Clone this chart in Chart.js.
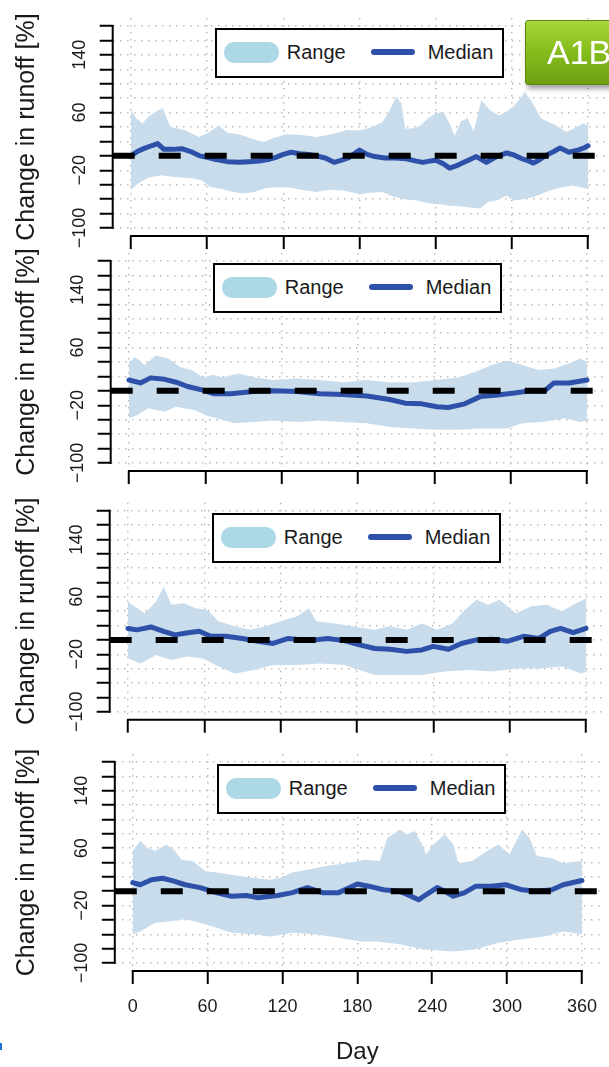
<!DOCTYPE html>
<html><head><meta charset="utf-8">
<script src="https://cdn.jsdelivr.net/npm/chart.js@4.4.1/dist/chart.umd.min.js"></script>
<style>
html,body{margin:0;padding:0;background:#fff;overflow:hidden;width:609px;height:1067px;}
body{position:relative;font-family:"Liberation Sans",Arial,sans-serif;}
canvas{position:absolute;left:0;}
.legend{position:absolute;box-sizing:border-box;width:289px;height:50px;border:2px solid #000;background:#fff;}
.legend .sw{position:absolute;left:7px;top:12px;width:55px;height:21px;border-radius:10px;background:#add8e6;}
.legend .ln{position:absolute;left:154px;top:19px;width:44px;height:6px;border-radius:3px;background:#2d50a8;}
.legend .t{position:absolute;top:10px;font-size:20px;line-height:24px;color:#1a1a1a;white-space:nowrap;}
#a1b{position:absolute;left:525px;top:20px;width:110px;height:65px;box-sizing:border-box;border-radius:3px;
background:linear-gradient(#a9d63b 0%,#86bf1d 45%,#6e9f10 100%);border:1px solid #5c8a0c;
box-shadow:2px 4px 5px rgba(0,0,0,0.35);color:#fff;font-size:34px;line-height:63px;padding-left:21px;}
#mark{position:absolute;left:0;top:1043px;width:2px;height:7px;background:#1f6fd0;}
</style></head>
<body>
<div id="a1b">A1B</div>
<div id="mark"></div>
<script>
const xTicks=[0,60,120,180,240,300,360];
const yTicks=[-100,-80,-60,-40,-20,0,20,40,60,80,100,120,140,160,180];
const yTickLabels=[-100,-20,60,140];
const xLabel='Day';
const yLabel='Change in runoff [%]';
const legendLabels=['Range','Median'];

// Panel 1
const p1UpperDays=[0,4,9,14,20,25,31,37,43,49,54,62,69,76,85,95,104,113,122,134,146,158,170,180,190,198,203,209,213,216,222,228,234,240,246,251,255,260,265,270,276,283,290,296,301,306,310,314,318,323,329,335,343,351,356,360];
const p1Upper=[63,52,45,55,62,66,40,38,35,30,26,33,42,32,30,24,19,25,30,29,26,30,36,35,40,47,60,82,73,38,38,42,52,59,61,45,28,48,52,34,77,63,56,62,68,78,89,80,68,52,47,42,33,40,45,42];
const p1LowerDays=[0,6,14,24,32,40,48,56,62,72,80,88,97,106,114,122,134,146,156,167,180,190,198,206,215,225,235,244,251,260,268,275,281,288,296,301,309,317,324,330,339,348,355,360];
const p1Lower=[-47,-38,-30,-27,-29,-30,-31,-34,-43,-46,-50,-52,-50,-45,-44,-43,-47,-50,-47,-48,-53,-51,-50,-56,-60,-62,-66,-67,-69,-70,-72,-73,-64,-62,-55,-62,-60,-57,-52,-48,-44,-41,-44,-46];
const p1MedianDays=[0,5,10,16,21,26,33,40,47,54,60,67,76,85,93,101,108,114,120,126,133,140,146,153,160,166,172,180,186,192,200,208,217,224,230,236,240,246,251,256,261,267,272,280,288,296,302,308,313,317,322,327,333,338,345,352,357,360];
const p1Median=[0,6,10,14,17,9,9,10,6,0,-2,-5,-8,-9,-8,-7,-5,-2,2,5,3,2,0,-3,-9,-6,-2,8,2,-1,-3,-3,-4,-7,-9,-7,-6,-11,-17,-14,-10,-5,-1,-9,-1,4,1,-4,-7,-10,-5,1,6,11,5,8,11,14];

// Panel 2
const p2UpperDays=[0,5,12,21,31,40,49,58,66,74,86,98,113,132,150,168,187,205,224,242,260,276,285,297,309,322,334,346,355,360];
const p2Upper=[40,47,36,49,45,33,29,19,22,19,24,19,15,17,15,12,15,12,12,15,19,29,36,42,36,29,31,38,45,40];
const p2LowerDays=[0,6,15,28,37,52,61,83,98,113,132,150,168,187,205,224,242,260,276,297,309,325,343,355,360];
const p2Lower=[-38,-34,-24,-29,-22,-27,-34,-45,-43,-41,-43,-41,-43,-45,-50,-52,-54,-54,-52,-52,-45,-43,-38,-43,-41];
const p2MedianDays=[0,9,17,28,37,46,58,67,80,98,113,132,150,168,187,205,217,230,242,251,264,276,288,303,315,326,334,346,360];
const p2Median=[15,11,18,16,12,6,1,-4,-4,-1,0,-1,-4,-5,-7,-12,-17,-18,-22,-23,-18,-8,-6,-3,0,-1,11,11,15];

// Panel 3
const p3UpperDays=[0,5,13,22,28,34,44,53,62,71,84,96,108,120,133,142,148,163,176,194,206,219,231,243,255,265,274,283,292,305,317,329,341,350,360];
const p3Upper=[53,47,37,53,74,49,51,44,42,26,19,14,19,26,33,44,26,23,19,14,19,14,23,14,23,42,56,49,56,37,47,49,40,49,58];
const p3LowerDays=[0,10,22,34,47,59,71,84,99,114,133,151,170,182,194,212,231,249,268,286,305,323,341,357,360];
const p3Lower=[-26,-33,-21,-28,-23,-26,-37,-47,-42,-35,-35,-33,-35,-42,-49,-49,-49,-44,-42,-44,-40,-40,-37,-47,-42];
const p3MedianDays=[0,7,18,28,37,47,56,65,77,90,102,114,126,142,157,170,182,194,206,219,231,240,252,262,274,286,298,311,323,332,340,350,360];
const p3Median=[16,14,18,12,7,10,12,5,5,2,-2,-5,2,-1,2,-1,-7,-12,-13,-16,-14,-9,-13,-5,0,1,-2,5,2,12,16,10,16];

// Panel 4
const p4UpperDays=[0,6,12,18,27,33,39,48,58,67,79,94,110,119,128,140,155,171,186,198,204,214,220,226,232,235,241,250,257,261,272,284,293,302,312,318,324,336,345,360];
const p4Upper=[56,70,60,56,65,58,44,42,28,26,23,19,16,19,26,30,35,39,44,42,74,86,79,84,65,51,65,79,65,39,42,56,65,51,86,74,49,46,39,42];
const p4LowerDays=[0,6,18,30,42,54,67,79,97,110,128,146,165,183,195,214,232,257,275,293,312,330,345,360];
const p4Lower=[-60,-56,-44,-42,-39,-44,-51,-58,-60,-63,-58,-60,-65,-70,-70,-74,-81,-84,-81,-72,-67,-63,-56,-60];
const p4MedianDays=[0,6,15,24,33,42,54,67,79,91,100,116,128,140,152,165,174,180,189,201,214,223,229,235,244,250,257,266,275,287,299,312,324,336,345,360];
const p4Median=[12,9,16,18,14,9,5,-2,-7,-6,-9,-6,-2,5,-2,-2,5,10,7,2,0,-7,-12,-5,5,0,-7,-2,7,7,9,2,0,2,9,15];

const F='"Liberation Sans", Arial, sans-serif';
const X_MIN=-14.4, X_MAX=374.4, Y_MIN=-111.2, Y_MAX=191.2;

const panels=[
  {top:0,h:250,area:[112.7,17.9,606.3,236.1],ud:p1UpperDays,u:p1Upper,ld:p1LowerDays,l:p1Lower,md:p1MedianDays,m:p1Median},
  {top:250,h:240,area:[110.7,252.9,605.3,471.1],ud:p2UpperDays,u:p2Upper,ld:p2LowerDays,l:p2Lower,md:p2MedianDays,m:p2Median},
  {top:490,h:250,area:[109.7,502.7,604.3,719.7],ud:p3UpperDays,u:p3Upper,ld:p3LowerDays,l:p3Lower,md:p3MedianDays,m:p3Median},
  {top:740,h:327,area:[114.8,754,607.2,971],ud:p4UpperDays,u:p4Upper,ld:p4LowerDays,l:p4Lower,md:p4MedianDays,m:p4Median}
];

const axisPlugin={id:'axesR',afterDraw(c){
  const {ctx,chartArea:a,scales:{x,y}}=c;
  ctx.save();
  ctx.strokeStyle='#000';ctx.lineWidth=2;ctx.lineCap='square';
  ctx.beginPath();
  ctx.moveTo(a.left,y.getPixelForValue(yTicks[yTicks.length-1]));
  ctx.lineTo(a.left,y.getPixelForValue(yTicks[0]));
  ctx.stroke();
  ctx.beginPath();
  ctx.moveTo(x.getPixelForValue(xTicks[0]),a.bottom);
  ctx.lineTo(x.getPixelForValue(xTicks[xTicks.length-1]),a.bottom);
  ctx.stroke();
  ctx.fillStyle='#1a1a1a';ctx.font='18px '+F;ctx.textAlign='center';ctx.textBaseline='middle';
  yTickLabels.forEach(v=>{
    const py=y.getPixelForValue(v);
    ctx.save();ctx.translate(a.left-33,py);ctx.rotate(-Math.PI/2);
    ctx.fillText(v<0?'\u2212'+Math.abs(v):String(v),0,0);
    ctx.restore();
  });
  ctx.restore();
}};

const gridOpts={color:'#bcbcbc',lineWidth:1.5,tickColor:'#000',tickWidth:2,tickLength:13,tickBorderDash:[],drawTicks:true};
const borderOpts={display:false,dash:[1.5,5.5]};

panels.forEach((p,i)=>{
  const last=i===panels.length-1;
  const [L,T,R,B]=p.area;
  const cv=document.createElement('canvas');
  cv.width=609;cv.height=p.h;cv.style.top=p.top+'px';cv.style.width='609px';cv.style.height=p.h+'px';
  document.body.appendChild(cv);
  const pts=(ds,vs)=>ds.map((d,k)=>({x:d,y:vs[k]}));
  const ch=new Chart(cv,{type:'line',
    data:{datasets:[
      {label:'zero',data:[{x:X_MIN,y:0},{x:X_MAX,y:0}],borderColor:'#000',borderWidth:6,borderDash:[22,24],borderCapStyle:'butt',pointRadius:0,fill:false,order:0},
      {label:legendLabels[1],data:pts(p.md,p.m),borderColor:'#2d50a8',borderWidth:5,borderJoinStyle:'round',borderCapStyle:'round',pointRadius:0,fill:false,tension:0,order:1},
      {label:legendLabels[0],data:pts(p.ud,p.u),borderColor:'rgba(0,0,0,0)',borderWidth:0,backgroundColor:'#c9dcec',pointRadius:0,fill:'+1',tension:0,order:2},
      {label:'lower',data:pts(p.ld,p.l),borderColor:'rgba(0,0,0,0)',borderWidth:0,pointRadius:0,fill:false,tension:0,order:3}
    ]},
    options:{responsive:false,animation:false,events:[],
      layout:{padding:{left:0,top:T-p.top,right:609-R,bottom:0}},
      plugins:{legend:{display:false},tooltip:{enabled:false}},
      scales:{
        x:{type:'linear',min:X_MIN,max:X_MAX,
          afterBuildTicks:s=>{s.ticks=xTicks.map(v=>({value:v}));},
          afterFit:s=>{s.height=p.top+p.h-B;},
          border:borderOpts,grid:gridOpts,
          ticks:{display:last,font:{family:F,size:18},color:'#1a1a1a',padding:12,maxRotation:0,minRotation:0,autoSkip:false},
          title:{display:last,text:xLabel,font:{family:F,size:24},color:'#1a1a1a',padding:{top:0,bottom:0}}
        },
        y:{type:'linear',min:Y_MIN,max:Y_MAX,
          afterBuildTicks:s=>{s.ticks=yTicks.map(v=>({value:v}));},
          afterFit:s=>{s.width=L;},
          border:borderOpts,grid:gridOpts,
          ticks:{display:false},
          title:{display:true,text:yLabel,font:{family:F,size:25},color:'#1a1a1a',padding:{top:12,bottom:0}}
        }
      }
    },
    plugins:[axisPlugin]
  });
  const a=ch.chartArea, yS=ch.scales.y;
  const lg=document.createElement('div');lg.className='legend';
  lg.style.left=(a.left+102)+'px';
  lg.style.top=(p.top+yS.getPixelForValue(180)+2)+'px';
  lg.innerHTML='<span class="sw"></span><span class="t" style="left:70px">'+legendLabels[0]+'</span><span class="ln"></span><span class="t" style="left:211px">'+legendLabels[1]+'</span>';
  document.body.appendChild(lg);
});
document.body.appendChild(document.getElementById('a1b'));
</script>
</body></html>
